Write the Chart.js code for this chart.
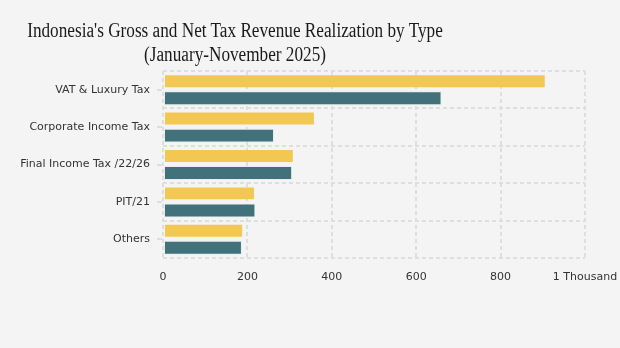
<!DOCTYPE html>
<html>
<head>
<meta charset="utf-8">
<script src="https://cdn.jsdelivr.net/npm/chart.js@4/dist/chart.umd.min.js"></script>
<style>
  html, body { margin: 0; padding: 0; background: #f4f4f4; }
  #wrap { position: relative; width: 620px; height: 348px; }
  #title {
    position: absolute; left: -30px; top: 18px; width: 530px;
    text-align: center; font-family: "Liberation Serif", serif;
    font-size: 20px; line-height: 24px; color: #1a1a1a;
    white-space: nowrap; transform: scaleX(0.86); transform-origin: 50% 0;
  }
  canvas { position: absolute; left: 0; top: 0; }
</style>
</head>
<body>
<div id="wrap">
  <canvas id="c" width="620" height="348"></canvas>
  <div id="title">Indonesia's Gross and Net Tax Revenue Realization by Type<br>(January-November 2025)</div>
</div>
<script>
const categories = ["VAT & Luxury Tax", "Corporate Income Tax", "Final Income Tax /22/26", "PIT/21", "Others"];
const grossValues = [907, 360, 310, 218, 190];
const netValues = [660, 263, 306, 219, 187];
const xTickMax = 1000;
const xTickStep = 200;
const xTopLabel = "1 Thousand";

const gridColor = "#dedede";
const labelFont = { family: "DejaVu Sans", size: 11 };

const categoryTickMarks = {
  id: "categoryTickMarks",
  afterDraw(chart) {
    const y = chart.scales.y, ctx = chart.ctx, left = chart.chartArea.left;
    ctx.save();
    ctx.strokeStyle = gridColor;
    ctx.lineWidth = 2;
    y.ticks.forEach((t, i) => {
      const py = Math.round(y.getPixelForTick(i));
      ctx.beginPath();
      ctx.moveTo(left - 6, py);
      ctx.lineTo(left - 1, py);
      ctx.stroke();
    });
    ctx.restore();
  }
};

new Chart(document.getElementById("c"), {
  type: "bar",
  data: {
    labels: categories,
    datasets: [
      { label: "Gross", data: grossValues, backgroundColor: "#f2c852",
        borderColor: "rgba(0,0,0,0)", borderWidth: 1, borderSkipped: false },
      { label: "Net", data: netValues, backgroundColor: "#41717a",
        borderColor: "#e9ecec", borderWidth: 1, borderSkipped: false }
    ]
  },
  options: {
    indexAxis: "y",
    responsive: false,
    animation: false,
    devicePixelRatio: 1,
    categoryPercentage: 0.91,
    barPercentage: 0.82,
    layout: { padding: { left: 15, right: 0, top: 71, bottom: 60 } },
    plugins: { legend: { display: false }, title: { display: false }, tooltip: { enabled: false } },
    scales: {
      x: {
        min: 0, max: xTickMax,
        ticks: {
          stepSize: xTickStep, color: "#333", font: labelFont, padding: 13,
          callback: v => v === xTickMax ? xTopLabel : v
        },
        grid: { color: gridColor, lineWidth: 2, drawTicks: false },
        border: { display: false, dash: [4, 3] },
        afterFit: s => { s.height = 30; s.paddingRight = 35; s.paddingLeft = 0; }
      },
      y: {
        ticks: { color: "#333", font: labelFont, padding: 13 },
        grid: { color: gridColor, lineWidth: 2, drawTicks: false, offset: true },
        border: { display: false, dash: [4, 3] },
        afterFit: s => { s.width = 148; }
      }
    }
  },
  plugins: [categoryTickMarks]
});
</script>
</body>
</html>
